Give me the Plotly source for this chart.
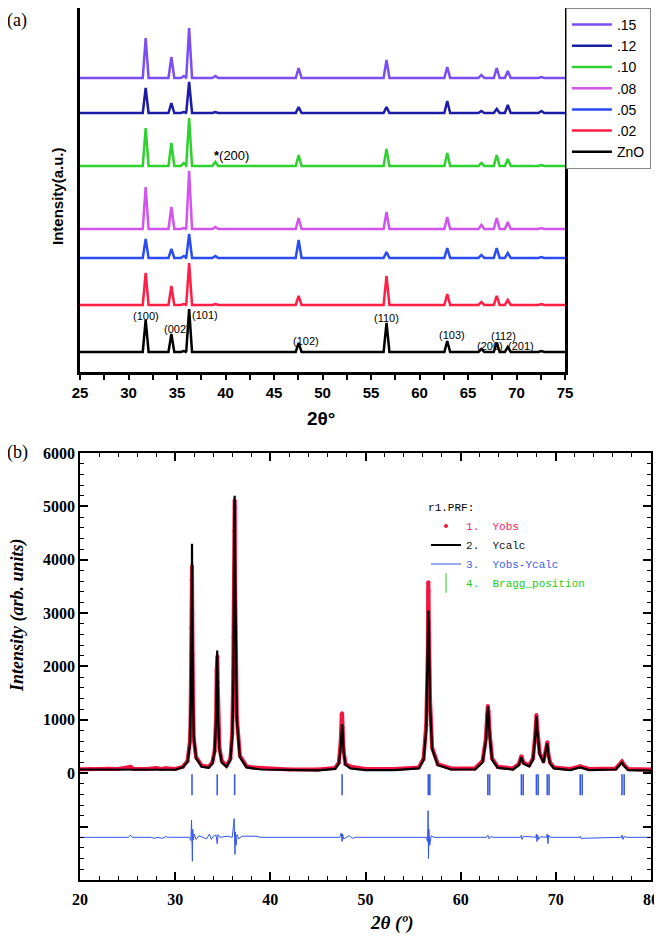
import plotly.graph_objects as go

# ================= panel (a) data =================
a_series = [".15", ".12", ".10", ".08", ".05", ".02", "ZnO"]
a_colors = ["#7b4df5", "#1c1ca6", "#2ed12e", "#d254ee", "#2a4cf2", "#ff1f45", "#000000"]
a_peak_pos = [31.77, 34.42, 35.70, 36.25, 38.95, 47.54, 56.60, 62.86, 66.38, 67.96, 69.10, 72.56]
a_h_015 = [40, 21, 2, 50, 2, 10, 18, 11, 3, 10, 7, 1]
a_h_012 = [25, 10, 1, 31, 1, 6, 6, 12, 2, 4, 8, 2]
a_h_010 = [38, 23, 3, 48, 4, 11, 17, 13, 3, 11, 7, 1]
a_h_008 = [42, 22, 1, 58, 2, 11, 17, 12, 4, 11, 7, 1]
a_h_005 = [19, 9, 2, 24, 2, 18, 6, 10, 3, 10, 5, 1]
a_h_002 = [32, 19, 1, 42, 1, 9, 29, 11, 3, 9, 5, 1]
a_h_zno = [32, 18, 1, 43, 0, 9, 29, 11, 3, 9, 5, 1]
a_heights = [a_h_015, a_h_012, a_h_010, a_h_008, a_h_005, a_h_002, a_h_zno]
a_offsets = [294, 259, 206, 143, 114, 67, 20]

a_hkl_text = ["(100)", "(002)", "(101)", "(102)", "(110)", "(103)", "(200)", "(112)", "(201)"]
a_hkl_x = [31.8, 35.0, 37.9, 48.3, 56.6, 63.3, 67.3, 68.7, 70.5]
a_hkl_y = [56, 43, 57, 31, 54, 37, 26, 36, 26]

# ================= panel (b) data =================
b_calc = [(20, 70), (24, 65), (25.3, 70), (27, 65), (28, 65), (30, 65), (30.8, 110), (31.3, 220),
          (31.55, 550), (31.67, 1500), (31.74, 3300), (31.77, 4300), (31.80, 3250), (31.86, 1600),
          (31.95, 700), (32.2, 280), (32.8, 120), (33.5, 100), (33.9, 180), (34.15, 400), (34.3, 1000),
          (34.38, 2000), (34.42, 2300), (34.46, 1900), (34.52, 1000), (34.65, 450), (34.9, 200),
          (35.4, 120), (35.8, 250), (36.0, 700), (36.12, 1800), (36.2, 4200), (36.25, 5200),
          (36.29, 4000), (36.36, 2600), (36.48, 1000), (36.8, 300), (37.5, 110), (39, 70), (42, 60),
          (45, 55), (46.8, 80), (47.2, 180), (47.4, 500), (47.5, 850), (47.54, 920), (47.6, 800),
          (47.7, 400), (47.9, 160), (48.4, 90), (50, 60), (53, 60), (55.6, 90), (56.1, 250),
          (56.38, 800), (56.52, 2200), (56.6, 3050), (56.66, 2700), (56.78, 1300), (57.0, 450),
          (57.6, 150), (59, 70), (61.5, 70), (62.3, 200), (62.65, 600), (62.78, 1000), (62.86, 1250),
          (62.93, 1100), (63.05, 700), (63.3, 250), (63.9, 100), (65.5, 70), (66.1, 150), (66.38, 300),
          (66.6, 180), (67.2, 130), (67.6, 250), (67.85, 700), (67.96, 1070), (68.05, 800),
          (68.12, 620), (68.3, 350), (68.7, 200), (68.95, 400), (69.1, 560), (69.22, 330), (69.4, 180),
          (69.8, 90), (71.5, 60), (72.56, 110), (73.5, 60), (76.3, 70), (76.95, 200), (77.2, 130),
          (77.6, 60), (80, 50)]

b_obs = [(20, 75), (21, 85), (22, 80), (23, 85), (24, 80), (25.3, 120), (25.6, 85), (27, 80), (28, 100),
         (28.5, 80), (29, 95), (30, 80), (30.8, 120), (31.3, 230), (31.55, 600), (31.62, 1000),
         (31.66, 1742), (31.70, 2228), (31.72, 2715), (31.74, 3614), (31.77, 3876), (31.80, 2977),
         (31.83, 2228), (31.86, 1400), (31.95, 650), (32.2, 300), (32.8, 140), (33.5, 120), (33.9, 200),
         (34.15, 420), (34.3, 1050), (34.36, 1929), (34.40, 2078), (34.43, 2191), (34.47, 1700),
         (34.52, 1050), (34.65, 480), (34.9, 230), (35.4, 140), (35.8, 270), (36.0, 750), (36.1, 1900),
         (36.15, 2547), (36.18, 3184), (36.2, 3876), (36.23, 4532), (36.25, 5112), (36.27, 4981),
         (36.29, 3633), (36.32, 2734), (36.36, 1948), (36.48, 1050), (36.8, 330), (37.5, 130),
         (38, 110), (39, 100), (40, 85), (42, 70), (45, 70), (46.8, 100), (47.2, 200), (47.4, 600),
         (47.5, 1100), (47.54, 1124), (47.6, 850), (47.7, 420), (47.9, 170), (48.5, 120), (50, 80),
         (53, 80), (55.6, 110), (56.1, 270), (56.38, 900), (56.5, 1700), (56.55, 2300), (56.58, 3350),
         (56.6, 3580), (56.62, 3420), (56.66, 2800), (56.78, 1400), (57.0, 480), (57.6, 170), (59, 90),
         (61.5, 90), (62.3, 230), (62.65, 650), (62.78, 1100), (62.86, 1260), (62.93, 1150),
         (63.05, 750), (63.3, 280), (63.9, 120), (65.5, 90), (66.1, 170), (66.38, 320), (66.6, 200),
         (67.2, 150), (67.6, 280), (67.85, 750), (67.96, 1090), (68.05, 850), (68.12, 640),
         (68.3, 380), (68.7, 220), (68.95, 420), (69.1, 580), (69.22, 350), (69.4, 200), (69.8, 110),
         (71.5, 80), (72.56, 130), (73.5, 80), (76.3, 90), (76.95, 220), (77.2, 150), (77.6, 80),
         (80, 70)]

b_diff = [(20, 0), (25.1, 0), (25.3, 40), (25.5, 0), (27.5, 0), (27.8, -20), (28.2, 0), (28.6, -20),
          (29.0, 10), (29.4, 0), (31.5, 0), (31.65, -60), (31.72, 320), (31.75, -200), (31.78, 250),
          (31.81, -450), (31.85, 150), (31.9, -50), (32.0, 60), (32.2, -40), (32.5, 30), (33.0, 0),
          (33.3, -30), (33.6, 60), (33.8, -40), (34.0, 20), (34.3, 40), (34.42, -120), (34.5, 50),
          (34.7, 0), (35.5, 20), (36.0, 0), (36.2, 350), (36.25, -50), (36.29, -320), (36.33, 100),
          (36.4, -150), (36.5, 50), (36.7, -30), (37.0, 20), (38.5, 20), (39.0, 0), (47.3, 0),
          (47.45, 80), (47.54, -80), (47.6, 60), (47.7, -30), (48.0, 0), (48.3, 30), (48.6, -20),
          (49.0, 0), (56.4, 0), (56.52, -80), (56.58, 500), (56.62, -400), (56.66, 150), (56.75, -150),
          (56.9, 30), (57.2, 0), (62.7, 0), (62.86, 40), (63.0, -30), (63.2, 20), (63.4, 0), (66.3, 0),
          (66.38, 40), (66.45, -40), (66.6, 20), (67.9, 0), (67.96, 60), (68.02, -80), (68.1, 40),
          (68.2, -40), (68.4, 10), (69.0, 0), (69.1, 60), (69.18, -120), (69.25, 40), (69.4, 0),
          (72.5, 0), (72.56, 20), (72.65, -20), (76.9, 0), (76.95, 40), (77.05, -40), (77.2, 20),
          (77.4, 0), (80, 0)]

b_bragg = [31.77, 34.42, 36.25, 47.54, 56.60, 56.76, 62.86, 63.04, 66.38, 66.57, 67.96, 68.14,
           69.10, 69.29, 72.56, 72.77, 76.95, 77.18]
b_bragg_level = -215
b_diff_offset = -1200
b_ytick_vals = [-2000, -1000, 0, 1000, 2000, 3000, 4000, 5000, 6000]
b_ytick_text = ["", "", "0", "1000", "2000", "3000", "4000", "5000", "6000"]

# ================= build =================
HW = 0.3  # half-width of drawn peak
fig = go.Figure()

for name, col, hs, off in zip(a_series, a_colors, a_heights, a_offsets):
    xs, ys = [25.0], [off]
    for p, h in zip(a_peak_pos, hs):
        xs += [p - HW, p, p + HW]
        ys += [off, off + h, off]
    xs.append(75.0)
    ys.append(off)
    fig.add_trace(go.Scatter(x=xs, y=ys, mode="lines", name=name,
                             line=dict(color=col, width=2.5), xaxis="x", yaxis="y",
                             legend="legend"))

cx, cy = zip(*b_calc)
ox, oy = zip(*b_obs)
dx, dy = zip(*b_diff)

RED = "#f5143f"
fig.add_trace(go.Scatter(x=ox, y=oy, mode="lines", line=dict(color=RED, width=4),
                         showlegend=False, xaxis="x2", yaxis="y2", hoverinfo="skip"))
fig.add_trace(go.Scatter(x=ox, y=oy, mode="markers", name="<span style='color:#ff2060'>1.  Yobs</span>",
                         marker=dict(color=RED, size=4), xaxis="x2", yaxis="y2", legend="legend2"))
fig.add_trace(go.Scatter(x=cx, y=cy, mode="lines", name="<span style='color:#111'>2.  Ycalc</span>",
                         line=dict(color="black", width=2.2), xaxis="x2", yaxis="y2", legend="legend2"))
fig.add_trace(go.Scatter(x=dx, y=[v + b_diff_offset for v in dy], mode="lines",
                         name="<span style='color:#3d5ee8'>3.  Yobs-Ycalc</span>",
                         line=dict(color="#3355ee", width=1), xaxis="x2", yaxis="y2", legend="legend2"))
fig.add_trace(go.Scatter(x=b_bragg, y=[b_bragg_level] * len(b_bragg), mode="markers",
                         marker=dict(symbol="line-ns", size=15, line=dict(color="#3a5ae6", width=1.6)),
                         showlegend=False, xaxis="x2", yaxis="y2"))
fig.add_trace(go.Scatter(x=[None], y=[None], mode="markers",
                         name="<span style='color:#22cc22'>4.  Bragg_position</span>",
                         marker=dict(symbol="line-ns", size=14, line=dict(color="#22cc22", width=1)),
                         xaxis="x2", yaxis="y2", legend="legend2"))

sans = "Liberation Sans, Arial, sans-serif"
serif = "Liberation Serif, Times New Roman, serif"
mono = "Liberation Mono, Courier New, monospace"

# the page adds an 8px body margin, so the figure is sized/placed to compensate
fig.update_layout(
    width=654, height=928, margin=dict(l=72, r=11, t=0, b=56, autoexpand=False),
    paper_bgcolor="white", plot_bgcolor="white",
    xaxis=dict(domain=[0, 0.8494], range=[25, 75], anchor="y", tick0=25, dtick=5,
               ticks="outside", ticklen=5, tickwidth=2, tickcolor="black",
               minor=dict(dtick=2.5, ticks="outside", ticklen=5, tickwidth=2, tickcolor="black", showgrid=False),
               showline=True, linewidth=2.5, linecolor="black", mirror=True,
               showgrid=False, zeroline=False,
               tickfont=dict(family=sans, size=15, color="black", weight="bold")),
    yaxis=dict(domain=[0.5826, 1.0], range=[0, 364], anchor="x", showticklabels=False, ticks="",
               showline=True, linewidth=2.5, linecolor="black", mirror=True,
               showgrid=False, zeroline=False),
    xaxis2=dict(domain=[0, 1], range=[20, 80], anchor="y2", tick0=20, dtick=10,
                ticks="inside", ticklen=8, tickwidth=1.5, tickcolor="black",
                minor=dict(dtick=2, ticks="inside", ticklen=4, tickwidth=1, tickcolor="black", showgrid=False),
                showline=True, linewidth=1.5, linecolor="black", mirror="ticks",
                showgrid=False, zeroline=False, ticklabelstandoff=4,
                tickfont=dict(family=serif, size=16, color="black", weight="bold")),
    yaxis2=dict(domain=[0, 0.4897], range=[-2000, 6000], anchor="x2",
                tickmode="array", tickvals=b_ytick_vals, ticktext=b_ytick_text,
                ticks="inside", ticklen=8, tickwidth=1.5, tickcolor="black",
                minor=dict(tickmode="linear", tick0=0, dtick=200, ticks="inside", ticklen=4,
                           tickwidth=1, tickcolor="black", showgrid=False),
                showline=True, linewidth=1.5, linecolor="black", mirror="ticks",
                showgrid=False, zeroline=False,
                tickfont=dict(family=serif, size=16, color="black", weight="bold")),
    legend=dict(x=0.851, y=1.0, xanchor="left", yanchor="top", bgcolor="white",
                bordercolor="#888888", borderwidth=1, itemwidth=40, tracegroupgap=0,
                font=dict(family=sans, size=14, color="black")),
    legend2=dict(x=0.606, y=0.439, xanchor="left", yanchor="top", bgcolor="rgba(0,0,0,0)",
                 borderwidth=0, tracegroupgap=0,
                 title=dict(text="r1.PRF:", font=dict(family=mono, size=11, color="black")),
                 font=dict(family=mono, size=11, color="black")),
    showlegend=True,
)

annotations = []
for t, x, y in zip(a_hkl_text, a_hkl_x, a_hkl_y):
    annotations.append(dict(text=t, x=x, y=y, xref="x", yref="y", showarrow=False,
                            xanchor="center", yanchor="middle",
                            font=dict(family=sans, size=11, color="black")))
annotations.append(dict(text="<b>*</b>(200)", x=40.6, y=216, xref="x", yref="y", showarrow=False,
                        xanchor="center", yanchor="middle",
                        font=dict(family=sans, size=13, color="black")))
annotations += [
    dict(text="(a)", x=-0.131, y=1.0, xref="paper", yref="paper", xanchor="left", yanchor="top",
         showarrow=False, font=dict(family=serif, size=18, color="black")),
    dict(text="(b)", x=-0.131, y=0.4897, xref="paper", yref="paper", xanchor="left", yanchor="middle",
         showarrow=False, font=dict(family=serif, size=18, color="black")),
    dict(text="<b>Intensity(a.u.)</b>", x=-0.0403, y=0.7844, xref="paper", yref="paper",
         xanchor="center", yanchor="middle",
         textangle=-90, showarrow=False, font=dict(family=sans, size=15, color="black")),
    dict(text="<b>2θ°</b>", x=0.422, y=0.5298, xref="paper", yref="paper",
         xanchor="center", yanchor="middle",
         showarrow=False, font=dict(family=sans, size=19, color="black")),
    dict(text="<b><i>Intensity (arb. units)</i></b>", x=-0.1086, y=0.3039, xref="paper", yref="paper",
         xanchor="center", yanchor="middle",
         textangle=-90, showarrow=False, font=dict(family=serif, size=18, color="black")),
    dict(text="<b><i>2θ (º)</i></b>", x=0.5447, y=-0.0493, xref="paper", yref="paper",
         xanchor="center", yanchor="middle",
         showarrow=False, font=dict(family=serif, size=19, color="black")),
]
fig.update_layout(annotations=annotations)

fig.write_html("out.html")
